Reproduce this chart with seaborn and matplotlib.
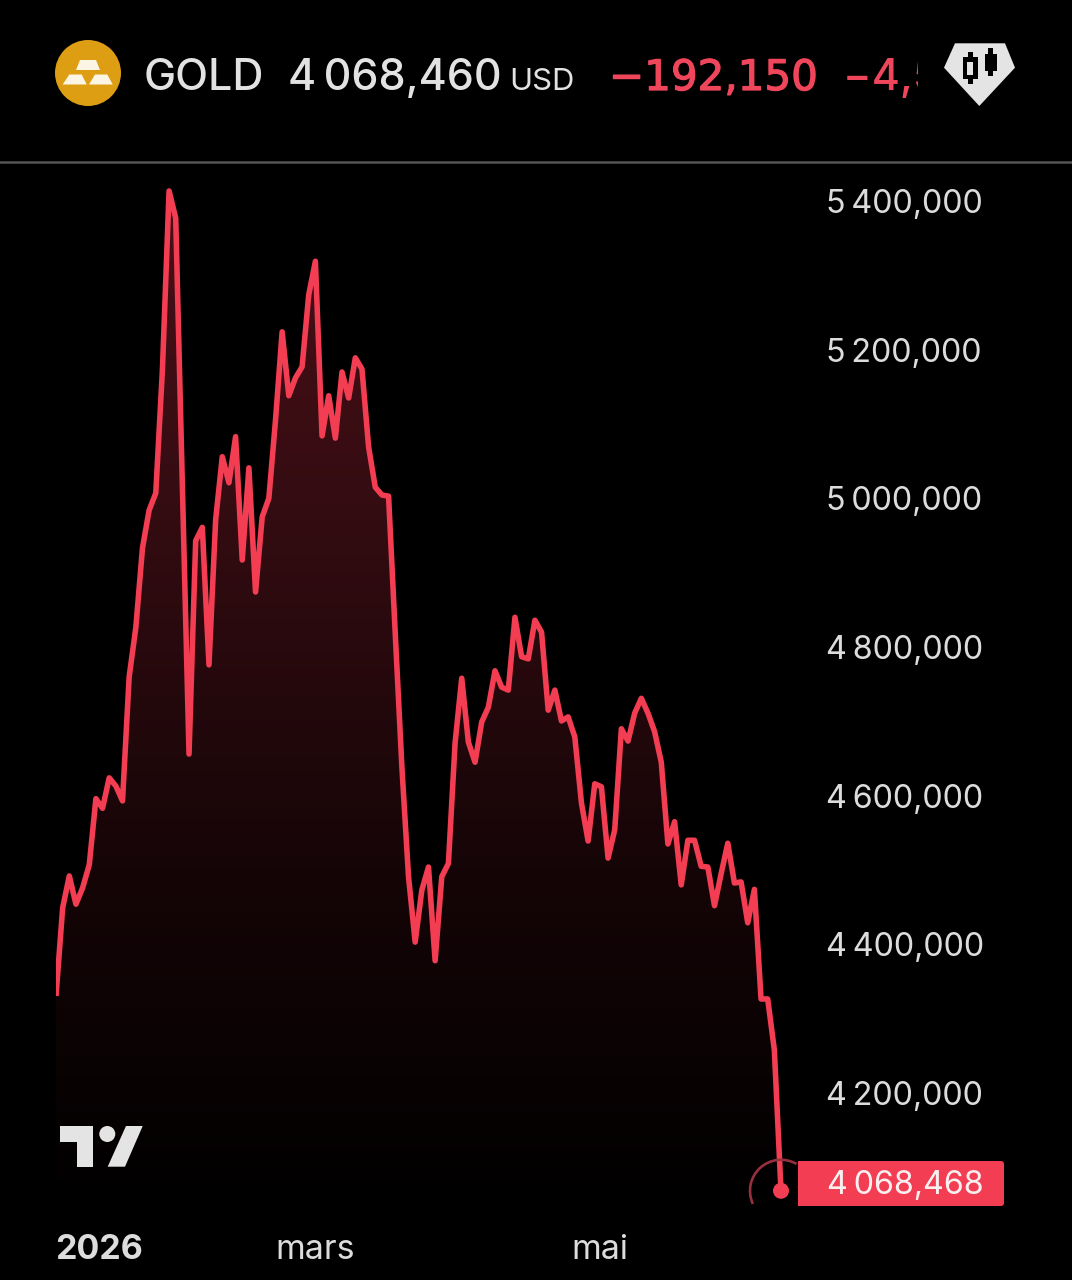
import numpy as np
import pandas as pd
import seaborn as sns
import matplotlib
matplotlib.use("Agg")
import matplotlib.pyplot as plt
import matplotlib.patheffects as pe
from matplotlib.colors import LinearSegmentedColormap
from matplotlib.patches import Arc, Circle, FancyBboxPatch, Polygon, Rectangle
from matplotlib.ticker import FuncFormatter
from matplotlib.transforms import Bbox

# Daily gold price, in thousands as the locale writes them (4 068,468 = 4068.468)
prices = [
    4330.5, 4449, 4492, 4454, 4476, 4507, 4596, 4583, 4624, 4613, 4593, 4760,
    4826, 4933, 4984, 5007, 5173, 5413.5, 5377, 5017, 4656, 4943, 4961, 4776,
    4971, 5056, 5021, 5083, 4917, 5041, 4874, 4975, 5000, 5105, 5224, 5138,
    5162, 5177, 5274, 5319, 5084, 5138, 5081, 5170, 5135, 5189, 5174, 5069,
    5015, 5004.5, 5003, 4819, 4639, 4491, 4403, 4473, 4504, 4378, 4491, 4509,
    4671, 4758, 4672, 4645, 4699, 4719, 4768, 4746, 4742, 4840, 4787, 4784,
    4836, 4820, 4715, 4742, 4700.5, 4706, 4679, 4590, 4539, 4616, 4612, 4516,
    4554, 4690, 4673.5, 4711, 4731, 4711, 4686, 4645, 4535, 4565, 4480, 4540,
    4540, 4505, 4504, 4452, 4495, 4536, 4482.5, 4484, 4429, 4474, 4326.5,
    4326.5, 4258, 4068.468,
]
price_ticks = [4200, 4400, 4600, 4800, 5000, 5200, 5400]
date_ticks = [6.4, 38.9, 81.8]
date_labels = ["2026", "mars", "mai"]
symbol = "GOLD"
quote = "4\u2009068,460"
currency = "USD"
change = "\u2212192,150"
change_pct = "\u22124,51\u2009%"

W, H = 1072, 1280
RED = "#f23d52"
TEXT = "#dcdcdc"

sns.set_theme(style="dark", rc={
    "figure.facecolor": "black",
    "axes.facecolor": "black",
    "savefig.facecolor": "black",
})
plt.rcParams["font.family"] = ["Inter", "Liberation Sans", "DejaVu Sans"]


def fpx(px):
    """Font size in points for a size given in pixels at 100 dpi."""
    return px * 0.72


def thousands(value, _pos=None):
    whole = f"{value:,.3f}"
    return whole.replace(",", "\u2009").replace(".", ",")


fig = plt.figure(figsize=(W / 100, H / 100), dpi=100)

# Price axes: spans the plotting band under the header, prices on the right
left, right, top, bottom = 56, 800, 170, 1215
y_low, y_high = 4035.9, 5441.7
ax = fig.add_axes([left / W, 1 - bottom / H, (right - left) / W, (bottom - top) / H])

frame = pd.DataFrame({"session": np.arange(len(prices)), "price": prices})
sns.lineplot(data=frame, x="session", y="price", ax=ax, color=RED, linewidth=4.0,
             solid_joinstyle="round", solid_capstyle="butt", zorder=3)

x_high = (len(prices) - 1) * (right - left) / 725

# Area under the line fades from dark red to black
area = ax.fill_between(frame["session"], frame["price"], y_low, color="none")
fade = LinearSegmentedColormap.from_list("fade", ["#4c1018", "#330c11", "#160507", "#000000"])
gradient = ax.imshow(np.linspace(0, 1, 256)[:, None], cmap=fade, aspect="auto",
                     extent=[0, x_high, y_low, y_high], origin="upper", zorder=1)
gradient.set_clip_path(area.get_paths()[0], transform=ax.transData)
ax.set_xlim(0, x_high)
ax.set_ylim(y_low, y_high)

ax.set_xlabel("")
ax.set_ylabel("")
ax.yaxis.tick_right()
ax.set_yticks(price_ticks)
ax.yaxis.set_major_formatter(FuncFormatter(thousands))
ax.set_xticks(date_ticks, date_labels)
ax.tick_params(axis="y", length=0, pad=19.0, labelsize=fpx(32.3), labelcolor=TEXT)
ax.tick_params(axis="x", length=0, pad=13.5, labelsize=fpx(34), labelcolor=TEXT)
ax.get_xticklabels()[0].set_fontweight("bold")
ax.grid(False)
for spine in ax.spines.values():
    spine.set_visible(False)

# Overlay in pixel coordinates for the header, the logos and the last-price badge
ui = fig.add_axes([0, 0, 1, 1], zorder=5)
ui.set_xlim(0, W)
ui.set_ylim(H, 0)
ui.axis("off")
ui.patch.set_alpha(0)

ui.add_line(plt.Line2D([0, W], [162, 162], color="#555555", lw=1.8))

# Gold bars icon
ui.add_patch(Circle((88, 73), 33, color="#dd9e14", lw=0))
for bar in ([(80, 60), (96, 60), (100, 70), (76, 70)],
            [(69.3, 74.5), (81.7, 74.5), (86.7, 84.5), (62.7, 84.5)],
            [(95, 74.5), (107.3, 74.5), (112.7, 84.5), (89, 84.5)]):
    ui.add_patch(Polygon(bar, color="#fdf5e3", lw=0))

# Header line
ui.text(144, 90, symbol, color="#e2e2e2", fontsize=fpx(43), va="baseline", ha="left", fontweight="medium")
ui.text(288, 90, quote, color="#e2e2e2", fontsize=fpx(43), va="baseline", ha="left", fontweight="medium")
ui.text(509, 90, currency, color="#e2e2e2", fontsize=fpx(31), va="baseline", ha="left")
ui.text(609, 90, change, color="#f0465c", fontsize=fpx(42), va="baseline", ha="left",
        family=["DejaVu Sans"],
        path_effects=[pe.withStroke(linewidth=0.9, foreground="#f0465c")])
pct = ui.text(843, 90, change_pct, color="#f0465c", fontsize=fpx(43), va="baseline", ha="left",
              fontweight="medium")
pct.set_clip_on(True)
pct.set_clip_box(Bbox([[0, 0], [918, H]]))

# Candlestick badge
ui.add_patch(Polygon([(955, 43.3), (1005, 43.3), (1015, 67.7), (979.3, 106), (944, 67.7)],
                     color="#e4e4e4", lw=0))
for box in ((963.3, 56.7, 14.4, 22.6), (968.3, 51.7, 4.4, 32.6),
            (985, 54.3, 12.3, 16.4), (988.3, 48.3, 5, 27.7)):
    ui.add_patch(Rectangle(box[:2], box[2], box[3], color="black", lw=0))
ui.add_patch(Rectangle((967.3, 61.7), 6, 13.3, color="#e4e4e4", lw=0))

# Charting logo, lower left
ui.add_patch(Polygon([(60, 1126), (92.7, 1126), (92.7, 1166.7), (76.7, 1166.7), (76.7, 1141.7), (60, 1141.7)],
                     color="#e4e4e4", lw=0))
ui.add_patch(Circle((107.3, 1134), 8, color="#e4e4e4", lw=0))
ui.add_patch(Polygon([(126, 1126), (142.7, 1126), (125, 1166.7), (107.7, 1166.7)], color="#e4e4e4", lw=0))

# Last price: dot on the line, pulse ring and value badge
last_x, last_y = ui.transData.inverted().transform(ax.transData.transform((len(prices) - 1, prices[-1])))
ui.add_patch(Arc((last_x, last_y), 62, 62, theta1=155, theta2=300, color="#96303f", lw=1.9))
ui.add_patch(Circle((last_x, last_y), 8, color=RED, lw=0))
ui.add_patch(Rectangle((798, 1161), 202, 45, color=RED, lw=0))
ui.add_patch(FancyBboxPatch((990, 1164), 11, 39, boxstyle="round,pad=3,rounding_size=3", color=RED, lw=0))
ui.text(827, 1182.5, thousands(prices[-1]), color="#f8f0f0", fontsize=fpx(32.3), va="center_baseline", ha="left")

fig.savefig("out.png", dpi=100)
